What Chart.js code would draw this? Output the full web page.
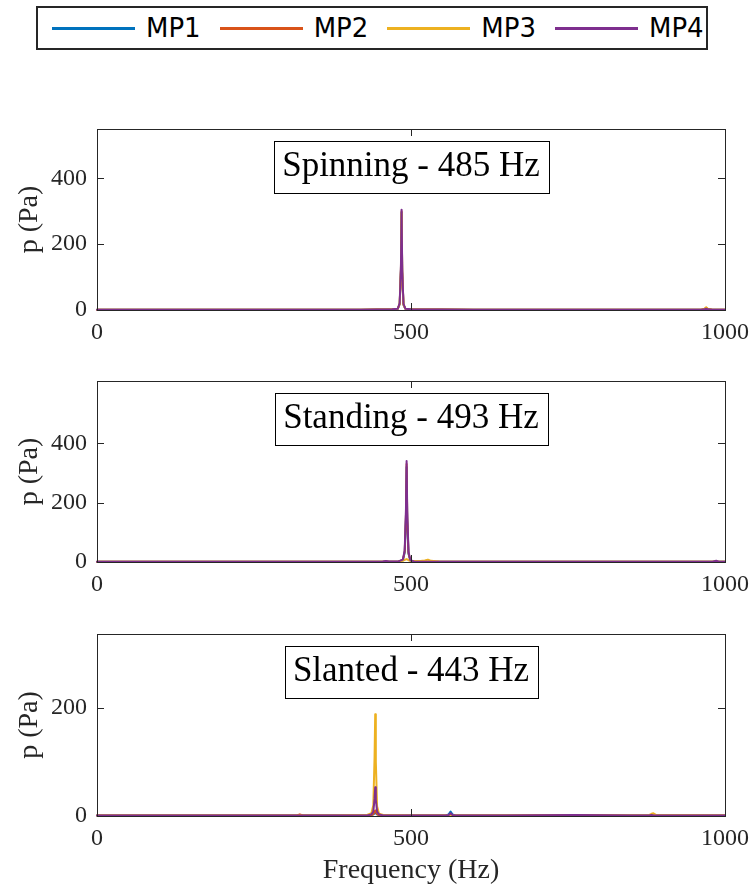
<!DOCTYPE html>
<html>
<head>
<meta charset="utf-8">
<title>Pressure spectra - MP1 to MP4</title>
<script src="https://cdn.jsdelivr.net/npm/chart.js@4.4.0/dist/chart.umd.min.js"></script>
<style>
    html, body {
        margin: 0;
        padding: 0;
        background: #fff;
        width: 750px;
        height: 887px;
        overflow: hidden;
        position: relative;
    }
    canvas {
        position: absolute;
        left: 0;
    }
    #legend {
        position: absolute;
        left: 36px;
        top: 6px;
        width: 672px;
        height: 44px;
        box-sizing: border-box;
        border: 2px solid #262626;
        display: flex;
        align-items: center;
        padding-left: 14px;
        background: #fff;
    }
    .legend-item {
        display: flex;
        align-items: center;
        margin-right: 19px;
    }
    .legend-line {
        width: 83px;
        height: 3px;
        margin-right: 11px;
    }
    .legend-text {
        font: 26px "DejaVu Sans", sans-serif;
        color: #000;
        line-height: 1;
    }
</style>
</head>
<body>
<div id="legend"></div>
<canvas id="spin-chart" width="780" height="240" style="top:110px"></canvas>
<canvas id="stand-chart" width="780" height="240" style="top:362px"></canvas>
<canvas id="slant-chart" width="780" height="272" style="top:615px"></canvas>

<script>
// Series names and colours (microphone positions)
const seriesNames = ['MP1', 'MP2', 'MP3', 'MP4'];
const seriesColors = ['#0072BD', '#D95319', '#EDB120', '#7E2F8E'];

// Axis ticks
const freqTicks = [0, 500, 1000];
const pressureTicksTall = [0, 200, 400];
const pressureTicksShort = [0, 200];

// Spinning mode - 485 Hz
const spinFreq = [0, 150, 300, 420, 470, 479, 482, 484, 485, 486, 488, 491, 500, 600, 750, 900, 962, 967, 970, 973, 980, 1000];
const spinMP1 = [1, 1, 1, 1, 2, 4, 18, 122, 296, 114, 16, 4, 2, 1, 1, 1, 1, 2, 4, 2, 1, 1];
const spinMP2 = [1, 1, 1, 1, 2, 4, 19, 126, 300, 118, 17, 4, 2, 1, 1, 1, 1, 3, 7, 3, 1, 1];
const spinMP3 = [1, 1, 1, 1, 2, 4, 18, 120, 294, 112, 16, 4, 2, 1, 1, 1, 1, 3, 8, 3, 1, 1];
const spinMP4 = [1, 1, 1, 1, 2, 4, 21, 134, 305, 124, 19, 4, 2, 1, 1, 1, 1, 2, 4, 2, 1, 1];

// Standing mode - 493 Hz
const standFreq = [0, 150, 300, 420, 455, 460, 465, 480, 487, 490, 492, 493, 494, 496, 499, 505, 515, 522, 527, 532, 545, 600, 750, 900, 980, 986, 990, 1000];
const standMP1 = [1, 1, 1, 1, 1, 2, 1, 2, 6, 32, 150, 320, 140, 28, 5, 2, 1, 1, 1, 1, 1, 1, 1, 1, 1, 2, 1, 1];
const standMP2 = [1, 1, 1, 1, 1, 2, 1, 2, 7, 35, 160, 330, 150, 30, 5, 2, 1, 1, 1, 1, 1, 1, 1, 1, 1, 2, 1, 1];
const standMP3 = [1, 1, 1, 1, 1, 1, 1, 2, 4, 7, 9, 10, 9, 6, 4, 3, 3, 5, 8, 4, 2, 1, 1, 1, 1, 2, 1, 1];
const standMP4 = [1, 1, 1, 1, 2, 3, 2, 2, 8, 40, 180, 340, 170, 35, 6, 2, 1, 1, 1, 1, 1, 1, 1, 1, 1, 4, 1, 1];

// Slanted mode - 443 Hz
const slantFreq = [0, 150, 300, 318, 323, 328, 380, 430, 437, 440, 442, 443, 444, 446, 449, 456, 500, 555, 560, 563, 566, 571, 650, 760, 850, 878, 883, 886, 890, 1000];
const slantMP1 = [1, 1, 1, 1, 1, 1, 1, 1, 2, 3, 5, 6, 5, 3, 2, 1, 1, 1, 3, 8, 3, 1, 1, 1, 1, 1, 1, 1, 1, 1];
const slantMP2 = [1, 1, 1, 1, 3, 1, 1, 1, 2, 3, 8, 10, 8, 3, 2, 1, 1, 1, 1, 2, 1, 1, 1, 2, 1, 1, 1, 1, 1, 1];
const slantMP3 = [1, 1, 1, 1, 1, 1, 1, 2, 5, 20, 110, 188, 100, 18, 4, 2, 1, 1, 1, 1, 1, 1, 1, 1, 1, 1, 4, 5, 2, 1];
const slantMP4 = [1, 1, 1, 1, 1, 1, 1, 1, 3, 8, 32, 53, 30, 8, 3, 1, 1, 1, 2, 5, 2, 1, 1, 2, 1, 1, 2, 1, 1, 1];

const FONT = '"Liberation Serif", "Times New Roman", serif';
const AXIS_COLOR = '#262626';

// Draws the axes box, inward tick marks and the boxed mode label
const panelFrame = {
    id: 'panelFrame',
    afterDatasetsDraw(chart, args, opts) {
        const { ctx, chartArea: a, scales: { x, y } } = chart;
        ctx.save();
        ctx.strokeStyle = AXIS_COLOR;
        ctx.lineWidth = 1;

        ctx.beginPath();
        y.ticks.forEach(t => {
            const py = Math.round(y.getPixelForValue(t.value)) + 0.5;
            ctx.moveTo(a.left, py);
            ctx.lineTo(a.left + 7, py);
            ctx.moveTo(a.right, py);
            ctx.lineTo(a.right - 7, py);
        });
        x.ticks.forEach(t => {
            const px = Math.round(x.getPixelForValue(t.value)) + 0.5;
            ctx.moveTo(px, a.bottom);
            ctx.lineTo(px, a.bottom - 7);
            ctx.moveTo(px, a.top);
            ctx.lineTo(px, a.top + 7);
        });
        ctx.stroke();
        ctx.strokeRect(Math.round(a.left) + 0.5, Math.round(a.top) + 0.5, Math.round(a.width), Math.round(a.height));

        // Mode label
        ctx.font = '35px ' + FONT;
        const w = Math.round(ctx.measureText(opts.text).width + 17);
        const cx = (a.left + a.right) / 2;
        const bx = Math.round(cx - w / 2) + 0.5;
        const by = Math.round(a.top + 12) + 0.5;
        ctx.fillStyle = '#fff';
        ctx.fillRect(bx, by, w, 52);
        ctx.strokeStyle = '#000';
        ctx.strokeRect(bx, by, w, 52);
        ctx.fillStyle = '#000';
        ctx.textAlign = 'center';
        ctx.textBaseline = 'alphabetic';
        ctx.fillText(opts.text, cx, by + 34);
        ctx.restore();
    }
};

document.addEventListener('DOMContentLoaded', function() {
    buildLegend();

    makePanel('spin-chart', 'Spinning - 485 Hz', spinFreq, [spinMP1, spinMP2, spinMP3, spinMP4], 550, pressureTicksTall, 40, false);
    makePanel('stand-chart', 'Standing - 493 Hz', standFreq, [standMP1, standMP2, standMP3, standMP4], 610, pressureTicksTall, 40, false);
    makePanel('slant-chart', 'Slanted - 443 Hz', slantFreq, [slantMP1, slantMP2, slantMP3, slantMP4], 336, pressureTicksShort, 71, true);
});

// Shared legend box at the top
function buildLegend() {
    const legend = document.getElementById('legend');
    seriesNames.forEach((name, i) => {
        const item = document.createElement('div');
        item.className = 'legend-item';
        item.innerHTML = `
            <div class="legend-line" style="background:${seriesColors[i]}"></div>
            <div class="legend-text">${name}</div>
        `;
        legend.appendChild(item);
    });
}

// One spectrum panel
function makePanel(canvasId, label, freq, series, yMax, yTicks, xAxisHeight, showXTitle) {
    const ctx = document.getElementById(canvasId).getContext('2d');

    const datasets = series.map((values, i) => ({
        label: seriesNames[i],
        data: freq.map((f, k) => ({ x: f, y: values[k] })),
        borderColor: seriesColors[i],
        backgroundColor: seriesColors[i],
        borderWidth: 2,
        borderJoinStyle: 'round',
        borderCapStyle: 'round',
        pointRadius: 0,
        tension: 0,
        clip: 4,
        order: series.length - 1 - i   // MP4 drawn on top, as in the original
    }));

    new Chart(ctx, {
        type: 'line',
        data: { datasets: datasets },
        options: {
            responsive: false,
            animation: false,
            layout: { padding: { top: 19, right: 55, left: 0, bottom: 0 } },
            plugins: {
                legend: { display: false },
                tooltip: { enabled: false },
                panelFrame: { text: label }
            },
            scales: {
                x: {
                    type: 'linear',
                    min: 0,
                    max: 1000,
                    grid: { display: false },
                    border: { display: false },
                    afterBuildTicks: scale => {
                        scale.ticks = freqTicks.map(v => ({ value: v }));
                    },
                    ticks: {
                        color: AXIS_COLOR,
                        font: { family: FONT, size: 24 },
                        padding: 0,
                        maxRotation: 0,
                        autoSkip: false,
                        callback: v => String(v)
                    },
                    title: {
                        display: showXTitle,
                        text: 'Frequency (Hz)',
                        color: AXIS_COLOR,
                        font: { family: FONT, size: 28 },
                        padding: { top: 0, bottom: 0 }
                    },
                    afterFit: scale => { scale.height = xAxisHeight; }
                },
                y: {
                    min: 0,
                    max: yMax,
                    grid: { display: false },
                    border: { display: false },
                    afterBuildTicks: scale => {
                        scale.ticks = yTicks.map(v => ({ value: v }));
                    },
                    ticks: {
                        color: AXIS_COLOR,
                        font: { family: FONT, size: 24 },
                        padding: 2,
                        autoSkip: false,
                        callback: v => String(v)
                    },
                    title: {
                        display: true,
                        text: 'p (Pa)',
                        color: AXIS_COLOR,
                        font: { family: FONT, size: 28 },
                        padding: { top: 13, bottom: 0 }
                    },
                    afterFit: scale => { scale.width = 97; }
                }
            }
        },
        plugins: [panelFrame]
    });
}
</script>
</body>
</html>
